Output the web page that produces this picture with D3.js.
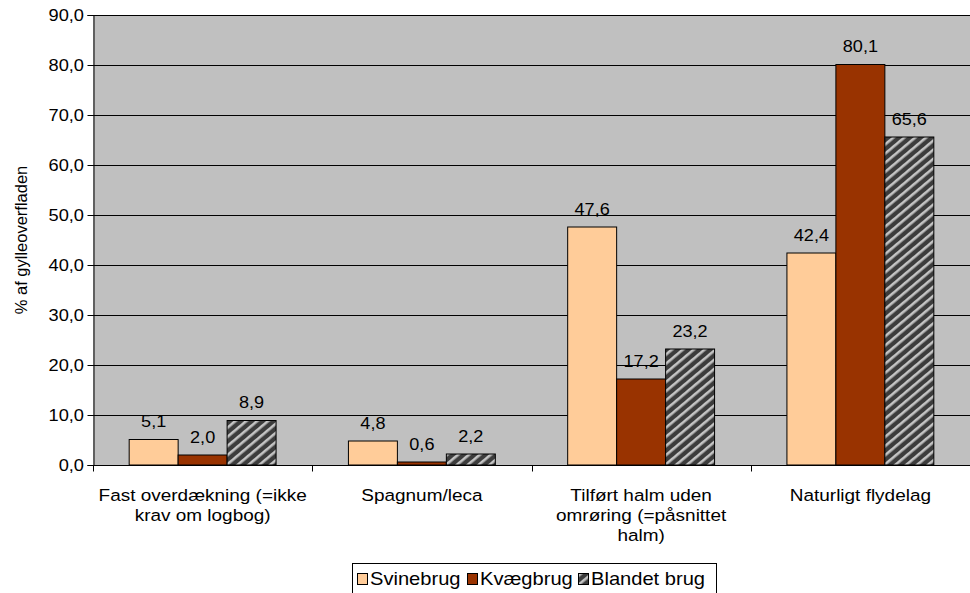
<!DOCTYPE html>
<html>
<head>
<meta charset="utf-8">
<script src="https://cdn.jsdelivr.net/npm/d3@7"></script>
<style>
  body { margin: 0; background: #fff; }
  svg { font-family: "Liberation Sans", Arial, sans-serif; }
</style>
</head>
<body>
<script>
// data
var categories = [
  ["Fast overdækning (=ikke", "krav om logbog)"],
  ["Spagnum/leca"],
  ["Tilført halm uden", "omrøring (=påsnittet", "halm)"],
  ["Naturligt flydelag"]
];
var seriesNames = ["Svinebrug", "Kvægbrug", "Blandet brug"];
var svinebrug = [5.1, 4.8, 47.6, 42.4];
var kvaegbrug = [2.0, 0.6, 17.2, 80.1];
var blandet = [8.9, 2.2, 23.2, 65.6];
var yTicks = [0, 10, 20, 30, 40, 50, 60, 70, 80, 90];

var series = [svinebrug, kvaegbrug, blandet];
var fills = ["#FFCC99", "#993300", "url(#hatch)"];

var width = 970, height = 593;
var margin = {top: 15, right: 0, bottom: 128, left: 93};
var w = width - margin.left - margin.right,
    h = height - margin.top - margin.bottom;
var SX = 1.15; // text in the picture is a bit wider than normal

var svg = d3.select("body").append("svg")
    .attr("width", width)
    .attr("height", height);

// text helper, stretched horizontally
function txt(parent, x, y, size, anchor, s, str) {
  return parent.append("text")
    .attr("transform", "translate(" + x + "," + y + ") scale(" + s + ",1)")
    .attr("font-size", size)
    .attr("text-anchor", anchor)
    .attr("fill", "#000")
    .text(str);
}

// hatch pattern for Blandet brug
var pat = svg.append("defs").append("pattern")
    .attr("id", "hatch")
    .attr("patternUnits", "userSpaceOnUse")
    .attr("width", 7).attr("height", 7)
    .attr("patternTransform", "rotate(50)");
pat.append("rect").attr("width", 7).attr("height", 7).attr("fill", "#3c3c3c");
pat.append("rect").attr("x", 0).attr("width", 2.6).attr("height", 7).attr("fill", "#c4c4c4");

var g = svg.append("g")
    .attr("transform", "translate(" + margin.left + "," + margin.top + ")");

var x0 = d3.scaleBand()
    .domain(d3.range(categories.length))
    .range([0, w])
    .paddingInner(0.33)
    .paddingOuter(0.165);

var x1 = d3.scaleBand()
    .domain(d3.range(series.length))
    .range([0, x0.bandwidth()]);

var y = d3.scaleLinear()
    .domain([0, 90])
    .range([h, 0]);

var fmt = function(v) { return d3.format(".1f")(v).replace(".", ","); };

// plot background
g.append("rect")
    .attr("width", w).attr("height", h)
    .attr("fill", "#C0C0C0");

// grid lines
g.selectAll(".grid")
    .data(yTicks)
  .enter().append("line")
    .attr("x1", 0).attr("x2", w)
    .attr("y1", function(d) { return Math.round(y(d)) + 0.5; })
    .attr("y2", function(d) { return Math.round(y(d)) + 0.5; })
    .attr("stroke", "#000").attr("stroke-width", 1);

// bars
var groups = g.selectAll(".grp")
    .data(categories)
  .enter().append("g")
    .attr("transform", function(d, i) { return "translate(" + x0(i) + ",0)"; });

groups.each(function(c, i) {
  var gg = d3.select(this);
  series.forEach(function(s, j) {
    gg.append("rect")
      .attr("x", x1(j))
      .attr("y", y(s[i]))
      .attr("width", x1.bandwidth())
      .attr("height", h - y(s[i]))
      .attr("fill", fills[j])
      .attr("stroke", "#000")
      .attr("stroke-width", 1);
    txt(gg, x1(j) + x1.bandwidth() / 2, y(s[i]) - 12.5, 16, "middle", 1.13, fmt(s[i]));
  });
});

// y axis
var yAxis = d3.axisLeft(y)
    .tickValues(yTicks)
    .tickSize(6)
    .tickFormat("");
var ya = g.append("g").attr("transform", "translate(0.5,0)").call(yAxis);
ya.select(".domain").attr("stroke", "#000");
ya.selectAll(".tick line").attr("stroke", "#000");
yTicks.forEach(function(t) {
  txt(g, -9, y(t) + 6, 16, "end", 1.14, fmt(t));
});

// x axis with ticks between categories
var xa = g.append("g").attr("transform", "translate(0," + (Math.round(h) + 0.5) + ")");
xa.append("line").attr("x1", 0).attr("x2", w).attr("stroke", "#000");
var step = w / categories.length;
xa.selectAll(".xt")
    .data(d3.range(categories.length + 1))
  .enter().append("line")
    .attr("x1", function(d) { return Math.round(d * step) + 0.5; })
    .attr("x2", function(d) { return Math.round(d * step) + 0.5; })
    .attr("y1", 0).attr("y2", 6)
    .attr("stroke", "#000");

categories.forEach(function(lines, i) {
  lines.forEach(function(line, k) {
    txt(xa, x0(i) + x0.bandwidth() / 2, 35 + k * 20, 16.5, "middle", SX, line);
  });
});

// y axis title
svg.append("text")
    .attr("transform", "translate(27," + (margin.top + h / 2) + ") rotate(-90)")
    .attr("text-anchor", "middle")
    .attr("font-size", 16.5)
    .text("% af gylleoverfladen");

// legend
var lg = svg.append("g").attr("transform", "translate(352,563)");
lg.append("rect")
    .attr("x", 0.5).attr("y", 0.5)
    .attr("width", 364).attr("height", 34)
    .attr("fill", "#fff").attr("stroke", "#000");
var lx = [5, 115, 226];
seriesNames.forEach(function(n, j) {
  lg.append("rect")
    .attr("x", lx[j] + 0.5).attr("y", 10.5)
    .attr("width", 10).attr("height", 11)
    .attr("fill", fills[j]).attr("stroke", "#000");
  txt(lg, lx[j] + 13, 22, 17.5, "start", SX, n);
});
</script>
</body>
</html>
